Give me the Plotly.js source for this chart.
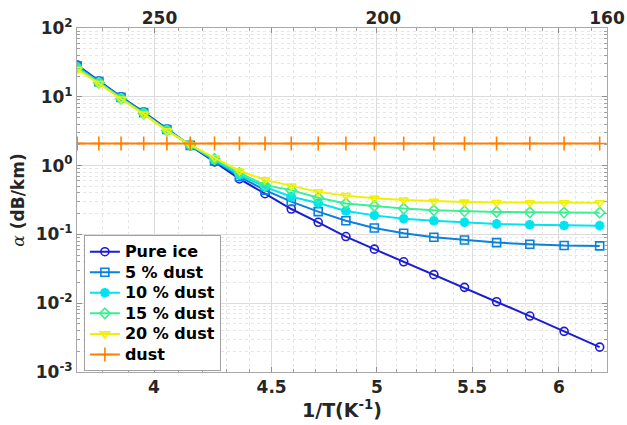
<!DOCTYPE html>
<html>
<head>
<meta charset="utf-8">
<script src="https://cdn.plot.ly/plotly-3.0.1.min.js"></script>
<style>html,body{margin:0;padding:0;background:#fff}#chart{width:627px;height:425px}</style>
</head>
<body>
<div id="chart"></div>
<script>
// Temperatures (K) of the samples
const temperatureK = [270, 264.2, 258.4, 252.6, 246.8, 241.1, 235.3, 229.5, 223.7, 217.9, 212.1, 206.3, 200.5, 194.7, 188.9, 183.2, 177.4, 171.6, 165.8, 160];
const invT = temperatureK.map(t => 1000 / t);

const pureIce = [29, 17, 10, 6.0, 3.4, 1.95, 1.13, 0.64, 0.39, 0.234, 0.15, 0.093, 0.061, 0.040, 0.026, 0.017, 0.0105, 0.0065, 0.0039, 0.0023];
const dust5   = [28, 16.6, 9.8, 5.9, 3.35, 1.97, 1.17, 0.69, 0.44, 0.30, 0.214, 0.158, 0.124, 0.104, 0.091, 0.083, 0.076, 0.072, 0.069, 0.068];
const dust10  = [27, 16.2, 9.6, 5.8, 3.3, 1.98, 1.21, 0.73, 0.49, 0.353, 0.286, 0.219, 0.189, 0.169, 0.158, 0.150, 0.142, 0.138, 0.135, 0.134];
const dust15  = [26, 16, 9.4, 5.7, 3.25, 2.0, 1.25, 0.78, 0.52, 0.44, 0.34, 0.282, 0.259, 0.237, 0.224, 0.217, 0.212, 0.209, 0.208, 0.207];
const dust20  = [25, 15.7, 9.3, 5.6, 3.2, 2.0, 1.3, 0.835, 0.62, 0.505, 0.415, 0.366, 0.334, 0.316, 0.303, 0.295, 0.291, 0.289, 0.288, 0.288];
const dustOnly = [2.1, 2.1, 2.1, 2.1, 2.1, 2.1, 2.1, 2.1, 2.1, 2.1, 2.1, 2.1, 2.1, 2.1, 2.1, 2.1, 2.1, 2.1, 2.1, 2.1];

const seriesNames = ['Pure ice', '5 % dust', '10 % dust', '15 % dust', '20 % dust', 'dust'];

const xTickVals = [4, 4.5, 5, 5.5, 6];
const xTickText = ['4', '4.5', '5', '5.5', '6'];
const xMinorVals = [3.7, 3.8, 3.9, 4.1, 4.2, 4.3, 4.4, 4.6, 4.7, 4.8, 4.9, 5.1, 5.2, 5.3, 5.4, 5.6, 5.7, 5.8, 5.9, 6.1, 6.2];
const topTempLabels = [250, 200, 160];
const yTickVals = [0.001, 0.01, 0.1, 1, 10, 100];
const yTickText = ['10<sup>-3</sup>', '10<sup>-2</sup>', '10<sup>-1</sup>', '10<sup>0</sup>', '10<sup>1</sup>', '10<sup>2</sup>'];

const colors = ['#1c1cd4', '#0a82dc', '#00e4f0', '#3cf090', '#f0f000', '#ff8000'];
const symbols = ['circle-open', 'square-open', 'asterisk-open', 'diamond-open', 'triangle-down-open', 'cross-thin-open'];
const values = [pureIce, dust5, dust10, dust15, dust20, dustOnly];

const traces = values.map((v, i) => ({
  x: invT, y: v, type: 'scatter', mode: 'lines+markers',
  name: '<span style="font-size:16px">' + seriesNames[i] + '</span>',
  line: {color: colors[i], width: 2},
  marker: {symbol: symbols[i], size: i === 5 ? 10 : 8, color: colors[i], line: {color: colors[i], width: i === 2 ? 3 : 1.6}},
  xaxis: 'x', yaxis: 'y'
}));

// invisible trace for top temperature axis
traces.push({x: topTempLabels.map(t => 1000 / t), y: [1, 1, 1], xaxis: 'x2', yaxis: 'y', mode: 'markers',
  marker: {opacity: 0}, showlegend: false, hoverinfo: 'skip'});

const tickFont = {family: 'DejaVu Sans', size: 17, color: '#262626', weight: 'bold'};

const layout = {
  width: 627, height: 425,
  margin: {l: 77, r: 20, t: 28, b: 53},
  paper_bgcolor: '#fff', plot_bgcolor: '#fff',
  font: {family: 'DejaVu Sans', size: 16, color: '#262626', weight: 'bold'},
  showlegend: true,
  legend: {x: 0.013, y: 0.397, xanchor: 'left', yanchor: 'top', bgcolor: '#fff',
    bordercolor: '#a0a0a0', borderwidth: 1, font: {family: 'DejaVu Sans', size: 13.5, color: '#000', weight: 'bold'},
    tracegroupgap: 0, itemwidth: 30},
  xaxis: {
    type: 'log', range: [Math.log10(3.703), Math.log10(6.296)],
    tickmode: 'array', tickvals: xTickVals, ticktext: xTickText,
    ticks: 'inside', ticklen: 5, tickcolor: '#909090', mirror: 'ticks',
    showline: true, linecolor: '#a8a8a8', linewidth: 1,
    showgrid: true, gridcolor: '#dcdcdc', gridwidth: 1,
    minor: {tickmode: 'array', tickvals: xMinorVals, ticks: 'inside', ticklen: 3, tickcolor: '#a0a0a0',
      showgrid: true, gridcolor: '#e6e6e6', griddash: 'dot'},
    zeroline: false,
    tickfont: tickFont,
    title: {text: '1/T(K<sup>-1</sup>)', font: {family: 'DejaVu Sans', size: 19, color: '#262626', weight: 'bold'}, standoff: 4}
  },
  xaxis2: {
    type: 'log', overlaying: 'x', side: 'top', anchor: 'y',
    range: [Math.log10(3.684), Math.log10(6.25)],
    tickmode: 'array', tickvals: topTempLabels.map(t => 1000 / t), ticktext: topTempLabels.map(String),
    ticks: '', showgrid: false, showline: false, zeroline: false,
    tickfont: tickFont
  },
  yaxis: {
    type: 'log', range: [-3, 2],
    tickmode: 'array', tickvals: yTickVals, ticktext: yTickText,
    ticks: 'inside', ticklen: 5, tickcolor: '#909090', mirror: 'ticks',
    showline: true, linecolor: '#a8a8a8', linewidth: 1,
    showgrid: true, gridcolor: '#dcdcdc', gridwidth: 1,
    minor: {dtick: 'D1', ticks: 'inside', ticklen: 3, tickcolor: '#a0a0a0',
      showgrid: true, gridcolor: '#e6e6e6', griddash: 'dot'},
    zeroline: false,
    tickfont: tickFont,
    title: {text: '<span style="font-family:\'DejaVu Serif\';font-style:italic;font-weight:normal">α</span> (dB/km)',
      font: {family: 'DejaVu Sans', size: 17, color: '#262626', weight: 'bold'}, standoff: 6}
  }
};

Plotly.newPlot('chart', traces, layout, {displayModeBar: false, staticPlot: true});
</script>
</body>
</html>
